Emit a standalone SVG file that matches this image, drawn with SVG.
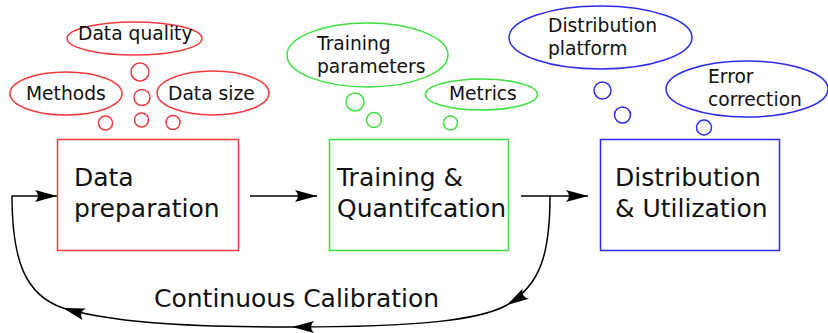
<svg xmlns="http://www.w3.org/2000/svg" width="828" height="333" viewBox="0 0 828 333">
<defs>
<marker id="ah" markerUnits="userSpaceOnUse" markerWidth="24" markerHeight="14" refX="22" refY="7" orient="auto" overflow="visible">
<path d="M0,1 L22,7 L0,13 Q6,7 0,1 Z" fill="#000"/>
</marker>
<style>
.box{fill:#fff;stroke-width:1.6}
.r{stroke:#ee3a3e;fill:none;stroke-width:1.5}
.g{stroke:#3fe03f;fill:none;stroke-width:1.5}
.b{stroke:#2a2aea;fill:none;stroke-width:1.5}
.bt{font-family:"DejaVu Sans",Verdana,sans-serif;font-size:25px;fill:#111}
.st{font-family:"DejaVu Sans",Verdana,sans-serif;font-size:18.7px;fill:#111}
.c{fill:none;stroke:#000;stroke-width:1.5;marker-end:url(#ah)}
</style>
</defs>
<rect width="828" height="333" fill="#fff"/>
<g id="connectors">
<path class="c" d="M250,196 L317,196"/>
<path class="c" d="M521,196 L588,196"/>
<path class="c" d="M550,196 C550,255 540,285 507,305"/>
<path class="c" d="M507,305 C480,320 420,327 292,327"/>
<path class="c" d="M292,327 C180,327 110,322 63,308"/>
<path class="c" d="M63,308 C25,295 12,260 12,196 L57,196"/>
</g>
<g id="label-calibration"><text class="bt" x="154" y="307">Continuous Calibration</text></g>
<g id="data-preparation">
<rect class="box r" x="57.5" y="139.5" width="181" height="111"/>
<text class="bt" x="74" y="186">Data</text>
<text class="bt" x="74" y="217">preparation</text>
</g>
<g id="training">
<rect class="box g" x="329.5" y="139.5" width="179" height="111"/>
<text class="bt" x="337" y="186">Training &amp;</text>
<text class="bt" x="337" y="217">Quantifcation</text>
</g>
<g id="distribution">
<rect class="box b" x="600.5" y="139.5" width="179" height="111"/>
<text class="bt" x="615" y="186">Distribution</text>
<text class="bt" x="615" y="217">&amp; Utilization</text>
</g>
<g id="data-quality">
<ellipse class="r" cx="134.5" cy="38.5" rx="67.5" ry="16.5"/>
<text class="st" x="78" y="40">Data quality</text>
</g>
<g id="methods">
<ellipse class="r" cx="66" cy="93.5" rx="56" ry="21.5"/>
<text class="st" x="26" y="100">Methods</text>
</g>
<g id="data-size">
<ellipse class="r" cx="213" cy="93" rx="56" ry="22"/>
<text class="st" x="168" y="100">Data size</text>
</g>
<g id="red-bubbles">
<circle class="r" cx="140" cy="72" r="9"/>
<circle class="r" cx="142" cy="97.5" r="8"/>
<circle class="r" cx="105.5" cy="123" r="7"/>
<circle class="r" cx="141.5" cy="120" r="7"/>
<circle class="r" cx="173" cy="122.5" r="7"/>
</g>
<g id="training-parameters">
<ellipse class="g" cx="367.5" cy="55" rx="80.5" ry="32"/>
<text class="st" x="317" y="50">Training</text>
<text class="st" x="317" y="73">parameters</text>
</g>
<g id="metrics">
<ellipse class="g" cx="481.5" cy="94.5" rx="56" ry="15.5"/>
<text class="st" x="449" y="100">Metrics</text>
</g>
<g id="green-bubbles">
<circle class="g" cx="355" cy="102" r="9"/>
<circle class="g" cx="374" cy="120" r="7.5"/>
<circle class="g" cx="450.5" cy="123" r="7"/>
</g>
<g id="distribution-platform">
<ellipse class="b" cx="600.5" cy="37.5" rx="91.5" ry="31.5"/>
<text class="st" x="548" y="32">Distribution</text>
<text class="st" x="548" y="55">platform</text>
</g>
<g id="error-correction">
<ellipse class="b" cx="747" cy="89" rx="81" ry="28"/>
<text class="st" x="708" y="83">Error</text>
<text class="st" x="708" y="106">correction</text>
</g>
<g id="blue-bubbles">
<circle class="b" cx="602.5" cy="90.5" r="8.5"/>
<circle class="b" cx="622.5" cy="115" r="8"/>
<circle class="b" cx="704" cy="127.5" r="7.5"/>
</g>
</svg>
